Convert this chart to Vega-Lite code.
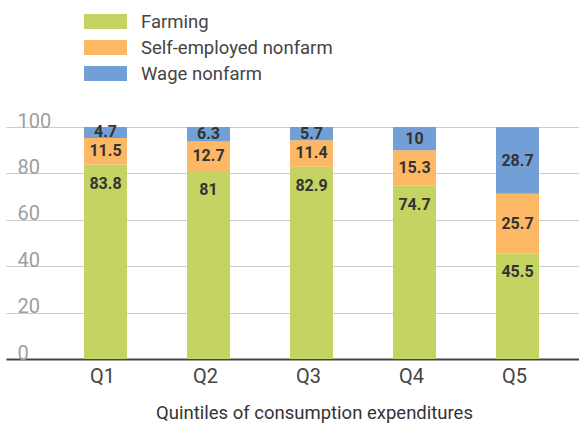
{
  "$schema": "https://vega.github.io/schema/vega-lite/v6.json",
  "width": 573,
  "height": 232,
  "autosize": {"type": "none"},
  "padding": {"left": 6, "top": 127, "right": 0, "bottom": 64},
  "config": {"font": "Roboto", "view": {"stroke": null}},
  "data": {
    "values": [
      {"quintile": "Q1", "category": "Farming", "value": 83.8},
      {"quintile": "Q1", "category": "Self-employed nonfarm", "value": 11.5},
      {"quintile": "Q1", "category": "Wage nonfarm", "value": 4.7},
      {"quintile": "Q2", "category": "Farming", "value": 81},
      {"quintile": "Q2", "category": "Self-employed nonfarm", "value": 12.7},
      {"quintile": "Q2", "category": "Wage nonfarm", "value": 6.3},
      {"quintile": "Q3", "category": "Farming", "value": 82.9},
      {"quintile": "Q3", "category": "Self-employed nonfarm", "value": 11.4},
      {"quintile": "Q3", "category": "Wage nonfarm", "value": 5.7},
      {"quintile": "Q4", "category": "Farming", "value": 74.7},
      {"quintile": "Q4", "category": "Self-employed nonfarm", "value": 15.3},
      {"quintile": "Q4", "category": "Wage nonfarm", "value": 10},
      {"quintile": "Q5", "category": "Farming", "value": 45.5},
      {"quintile": "Q5", "category": "Self-employed nonfarm", "value": 25.7},
      {"quintile": "Q5", "category": "Wage nonfarm", "value": 28.7}
    ]
  },
  "transform": [
    {"stack": "value", "groupby": ["quintile"], "sort": [{"field": "category", "order": "ascending"}], "as": ["v0", "v1"]},
    {"calculate": "(datum.v0 + datum.v1) / 2", "as": "vmid"}
  ],
  "encoding": {
    "x": {
      "field": "quintile",
      "type": "nominal",
      "scale": {"paddingInner": 0.5825, "paddingOuter": 0.573, "align": 0.661},
      "axis": {
        "title": "Quintiles of consumption expenditures",
        "labelAngle": 0,
        "ticks": false,
        "domainColor": "#444",
        "domainWidth": 2,
        "labelFontSize": 20,
        "labelColor": "#444",
        "labelPadding": 7,
        "labelOffset": -3,
        "titleFontSize": 18.5,
        "titleFontWeight": "normal",
        "titleColor": "#333",
        "titlePadding": 17,
        "titleX": 308,
        "titleAlign": "center"
      }
    }
  },
  "layer": [
    {
      "mark": {"type": "bar"},
      "encoding": {
        "y": {
          "field": "v0",
          "type": "quantitative",
          "scale": {"domain": [0, 100], "nice": false},
          "axis": {
            "values": [0, 20, 40, 60, 80, 100],
            "title": null,
            "domain": false,
            "ticks": false,
            "gridColor": "#cccccc",
            "labelAlign": "left",
            "labelBaseline": "alphabetic",
            "labelPadding": -11,
            "labelFontSize": 20,
            "labelColor": "#9e9e9e"
          }
        },
        "y2": {"field": "v1"},
        "color": {
          "field": "category",
          "type": "nominal",
          "scale": {
            "domain": ["Farming", "Self-employed nonfarm", "Wage nonfarm"],
            "range": ["#c5d363", "#fcb864", "#72a0d6"]
          },
          "legend": {
            "orient": "none",
            "legendX": 78,
            "legendY": -118.5,
            "title": null,
            "padding": 0,
            "symbolType": "M-1,-0.349L1,-0.349L1,0.349L-1,0.349Z",
            "symbolSize": 1849,
            "symbolStrokeWidth": 0,
            "symbolOpacity": 1,
            "clipHeight": 26,
            "labelFontSize": 18.5,
            "labelLimit": 400,
            "labelColor": "#444",
            "labelOffset": 14,
            "rowPadding": 0,
            "encode": {
              "symbols": {
                "update": {
                  "fill": {"signal": "datum.value === 'Farming' ? '#c5d363' : datum.value === 'Wage nonfarm' ? '#72a0d6' : '#fba63a'"}
                }
              }
            }
          }
        }
      }
    },
    {
      "transform": [{"filter": "datum.category !== 'Farming'"}],
      "mark": {"type": "text", "fontWeight": "bold", "fontSize": 16, "color": "#333", "baseline": "middle"},
      "encoding": {
        "y": {"field": "vmid", "type": "quantitative"},
        "text": {"field": "value", "type": "nominal"}
      }
    },
    {
      "transform": [{"filter": "datum.category === 'Farming'"}],
      "mark": {"type": "text", "fontWeight": "bold", "fontSize": 16, "color": "#333", "baseline": "top", "dy": 11},
      "encoding": {
        "y": {"field": "v1", "type": "quantitative"},
        "text": {"field": "value", "type": "nominal"}
      }
    }
  ]
}
